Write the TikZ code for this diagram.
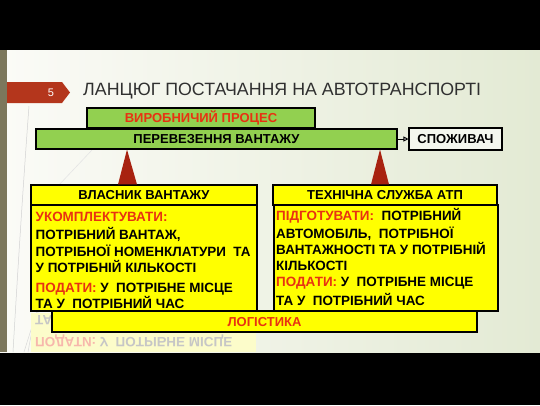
\documentclass[tikz,border=0pt]{standalone}
\usepackage{fontspec}
\setmainfont{Liberation Sans}
\usetikzlibrary{arrows.meta}
\definecolor{boxgreen}{RGB}{146,208,80}
\definecolor{boxyellow}{RGB}{255,255,0}
\definecolor{txtred}{RGB}{232,50,18}
\definecolor{tipred}{RGB}{168,34,16}
\definecolor{titlegray}{RGB}{48,48,48}
\definecolor{slideleft}{RGB}{251,251,247}
\definecolor{slideright}{RGB}{227,234,212}
\definecolor{stripe}{RGB}{124,119,92}
\definecolor{badge}{RGB}{180,54,28}
\begin{document}
\begin{tikzpicture}[x=1pt,y=-1pt,
  every node/.style={inner sep=0pt},
  bar/.style={draw,line width=1.1pt,fill=boxgreen,text height=9.4pt,text depth=0pt,
    font=\fontsize{13}{15}\selectfont\bfseries},
  card/.style={draw,line width=1.1pt,fill=boxyellow,text height=9.4pt,text depth=0pt,
    font=\fontsize{13}{15}\selectfont\bfseries},
  bodytext/.style={align=left,anchor=north west,font=\fontsize{13.45}{16.2}\selectfont\bfseries},
  tri/.style={fill=tipred}]
\useasboundingbox (0,0) rectangle (540,405);
\fill[black] (0,0) rectangle (540,405);
\shade[left color=slideleft,right color=slideright] (0,50) rectangle (540,352);
\fill[stripe] (0,50) rectangle (7,352);
% theme lines
\draw[gray!35,line width=0.5pt] (29,106) .. controls (22,200) and (16,300) .. (13,352);
\draw[gray!30,line width=0.5pt] (44,300) .. controls (34,320) .. (24,352);
\draw[gray!30,line width=0.5pt] (38,306) .. controls (32,330) .. (28,352);
\draw[white!80!gray,line width=0.6pt] (92,150) -- (58,186);
% slide number and title
\fill[badge] (7,82) -- (62,82) -- (70,92.5) -- (62,103) -- (7,103) -- cycle;
\node[text=white,font=\fontsize{11}{13}\selectfont] (num) at (51,93) {5};
\node[anchor=west,text=titlegray,font=\fontsize{17.8}{20}\selectfont] (title) at (83,91)
  {ЛАНЦЮГ ПОСТАЧАННЯ НА АВТОТРАНСПОРТІ};
% reflection under the left card
\fill[boxyellow!18!slideleft] (31,313) rectangle (256,352);
\node[anchor=west,text=gray!45,font=\fontsize{13.45}{15}\selectfont\bfseries] (reflA) at (35,322)
  {\scalebox{1}[-1]{ТА У\ \ ПОТРІБНИЙ ЧАС}};
\node[anchor=west,text=gray!45,font=\fontsize{13.45}{15}\selectfont\bfseries] (reflB) at (35,341)
  {\scalebox{1}[-1]{\textcolor{txtred!35}{ПОДАТИ:} У\ \ ПОТРІБНЕ МІСЦЕ}};
% top chain
\node[bar,text=txtred,minimum width=228pt,minimum height=20pt] (proc) at (201,118) {ВИРОБНИЧИЙ ПРОЦЕС};
\node[bar,minimum width=361pt,minimum height=20pt] (trans) at (216.5,139) {ПЕРЕВЕЗЕННЯ ВАНТАЖУ};
\node[draw,line width=1.1pt,fill=slideright!40!white,minimum width=93pt,minimum height=22pt,
  text height=9.4pt,text depth=0pt,font=\fontsize{13}{15}\selectfont\bfseries] (cons) at (455.5,139) {СПОЖИВАЧ};
\draw[-{Triangle[length=5pt,width=5pt,fill=gray!70]},line width=0.8pt] (trans.east) -- (cons.west);
% cards
\node[card,minimum width=226pt,minimum height=106pt] (ownerbody) at (144,258) {};
\node[card,minimum width=226pt,minimum height=20pt] (owner) at (144,195) {ВЛАСНИК ВАНТАЖУ};
\node[card,minimum width=224pt,minimum height=106pt] (techbody) at (386,258) {};
\node[card,minimum width=224pt,minimum height=20pt] (tech) at (385,195) {ТЕХНІЧНА СЛУЖБА АТП};
\node[bodytext] (ownertext) at (35.5,210.3)
  {\strut\textcolor{txtred}{УКОМПЛЕКТУВАТИ:}\\
   ПОТРІБНИЙ ВАНТАЖ,\\
   ПОТРІБНОЇ НОМЕНКЛАТУРИ\ \ ТА\\
   У ПОТРІБНІЙ КІЛЬКОСТІ\\[4pt]
   \textcolor{txtred}{ПОДАТИ:} У\ \ ПОТРІБНЕ МІСЦЕ\\
   ТА У\ \ ПОТРІБНИЙ ЧАС};
\node[bodytext] (techtext) at (276,208.3)
  {\strut\textcolor{txtred}{ПІДГОТУВАТИ:}\ \ ПОТРІБНИЙ\\
   АВТОМОБІЛЬ,\ \ ПОТРІБНОЇ\\
   ВАНТАЖНОСТІ ТА У ПОТРІБНІЙ\\
   КІЛЬКОСТІ\\
   \textcolor{txtred}{ПОДАТИ:} У\ \ ПОТРІБНЕ МІСЦЕ\\[3pt]
   ТА У\ \ ПОТРІБНИЙ ЧАС};
\node[card,text=txtred,minimum width=425pt,minimum height=21pt] (logist) at (264.5,321.5) {ЛОГІСТИКА};
% arrows up to the transport bar
\fill[tri] (118,0 |- owner.north) -- (127,0 |- trans.south) -- (137,0 |- owner.north) -- cycle;
\fill[tri] (371,0 |- tech.north) -- (380,0 |- trans.south) -- (389,0 |- tech.north) -- cycle;
\end{tikzpicture}
\end{document}
